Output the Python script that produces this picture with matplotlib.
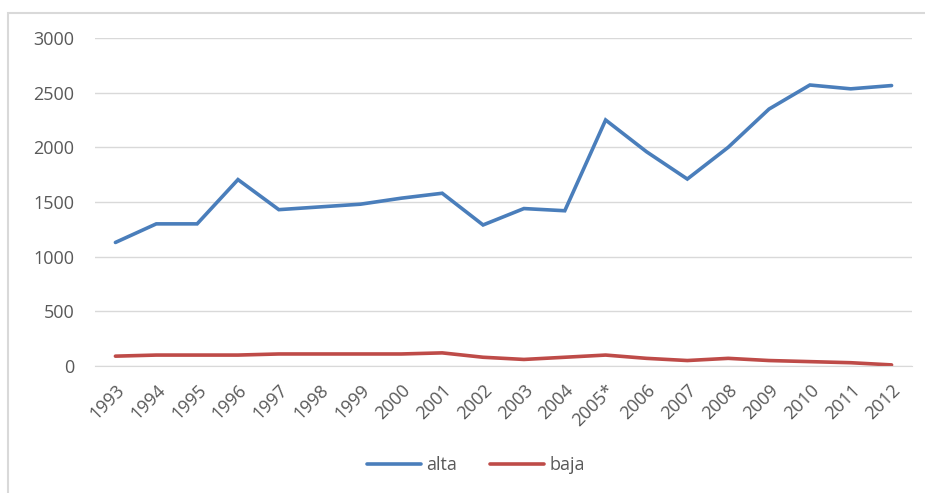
import matplotlib
matplotlib.use("Agg")
import matplotlib.pyplot as plt
from matplotlib.patches import Rectangle

years = ["1993", "1994", "1995", "1996", "1997", "1998", "1999", "2000", "2001", "2002",
         "2003", "2004", "2005*", "2006", "2007", "2008", "2009", "2010", "2011", "2012"]
alta = [1130, 1300, 1300, 1705, 1430, 1455, 1480, 1535, 1580, 1290,
        1440, 1420, 2250, 1960, 1710, 2000, 2350, 2570, 2535, 2565]
baja = [90, 100, 100, 100, 110, 110, 110, 110, 120, 80,
        60, 80, 100, 70, 50, 70, 50, 40, 30, 10]
yticks = [0, 500, 1000, 1500, 2000, 2500, 3000]

plt.rcParams['font.family'] = ['Open Sans', 'DejaVu Sans']
W, H = 925, 493
fig = plt.figure(figsize=(W / 100, H / 100), dpi=100)
fig.patches.append(Rectangle((8 / W, -0.1), 1.2, 1 - 13 / H + 0.1, transform=fig.transFigure,
                             fill=False, edgecolor='#D9D9D9', linewidth=1.5))

ax = fig.add_axes([95 / W, 1 - 366 / H, (912 - 95) / W, (366 - 38) / H])
x = list(range(len(years)))
ax.plot(x, alta, color='#4A7EBB', linewidth=2.6, label='alta', solid_capstyle='round', solid_joinstyle='miter')
ax.plot(x, baja, color='#BE4B48', linewidth=2.6, label='baja', solid_capstyle='round')

ax.set_xlim(-0.5, len(years) - 0.5)
ax.set_ylim(0, 3000)
ax.set_yticks(yticks)
ax.set_yticklabels([str(v) for v in yticks])
ax.set_xticks(x)
ax.set_xticklabels(years, rotation=45, ha='right', rotation_mode='anchor')
ax.grid(axis='y', color='#D9D9D9', linewidth=1)
ax.set_axisbelow(True)
for s in ['top', 'right', 'left']:
    ax.spines[s].set_visible(False)
ax.spines['bottom'].set_color('#D9D9D9')
ax.tick_params(axis='y', length=0, pad=15, labelsize=13, labelcolor='#595959')
ax.tick_params(axis='x', length=0, pad=11, labelsize=13, labelcolor='#595959')

leg = fig.legend(loc='center', bbox_to_anchor=(476 / W, 1 - 465 / H), ncol=2, frameon=False,
                 fontsize=13, handlelength=3.0, handletextpad=0.3, columnspacing=1.8)
for t in leg.get_texts():
    t.set_color('#595959')

fig.savefig('out.png', dpi=100)
